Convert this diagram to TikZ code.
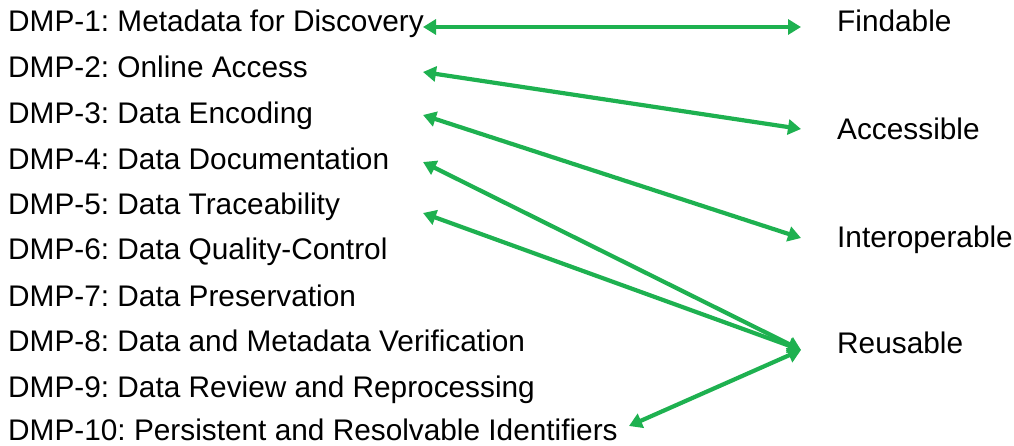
\documentclass[tikz,border=0pt]{standalone}
\usepackage{fontspec}
\setmainfont{Liberation Sans}
\usetikzlibrary{arrows.meta}
\definecolor{arrgreen}{RGB}{30,177,80}
\frenchspacing
\tikzset{
  lbl/.style={anchor=base west, inner sep=0pt, font=\fontsize{29.8}{31}\selectfont, text=black},
  link/.style={draw=arrgreen, line width=4.2pt, {Triangle[length=13pt,width=15pt]}-{Triangle[length=13pt,width=15pt]}}
}
\begin{document}
\begin{tikzpicture}[x=1pt,y=-1pt]
\useasboundingbox (0,0) rectangle (1014,446);
\node[lbl] (d1) at (8,32) {DMP-1: Metadata for Discovery};
\node[lbl] (d2) at (8,78) {DMP-2: Online Access};
\node[lbl] (d3) at (8,124) {DMP-3: Data Encoding};
\node[lbl] (d4) at (8,170) {DMP-4: Data Documentation};
\node[lbl] (d5) at (8,215) {DMP-5: Data Traceability};
\node[lbl] (d6) at (8,260) {DMP-6: Data Quality-Control};
\node[lbl] (d7) at (8,306) {DMP-7: Data Preservation};
\node[lbl] (d8) at (8,351) {DMP-8: Data and Metadata Verification};
\node[lbl] (d9) at (8,397) {DMP-9: Data Review and Reprocessing};
\node[lbl] (d10) at (8,440) {DMP-10: Persistent and Resolvable Identifiers};
\node[lbl] (F) at (837,32) {Findable};
\node[lbl] (A) at (837,140) {Accessible};
\node[lbl] (I) at (837,248) {Interoperable};
\node[lbl] (R) at (837,353) {Reusable};
\coordinate (l1) at (423,27);
\coordinate (l2) at (423,72);
\coordinate (l3) at (423,115);
\coordinate (l4) at (423,162);
\coordinate (l5) at (423,213);
\coordinate (l10) at (629,426);
\coordinate (rF) at (801,27);
\coordinate (rA) at (801,129);
\coordinate (rI) at (801,238);
\coordinate (rR) at (801,350);
\draw[link] (l1) -- (rF);
\draw[link] (l2) -- (rA);
\draw[link] (l3) -- (rI);
\draw[link] (l4) -- (rR);
\draw[link] (l5) -- (rR);
\draw[link] (l10) -- (rR);
\end{tikzpicture}
\end{document}
